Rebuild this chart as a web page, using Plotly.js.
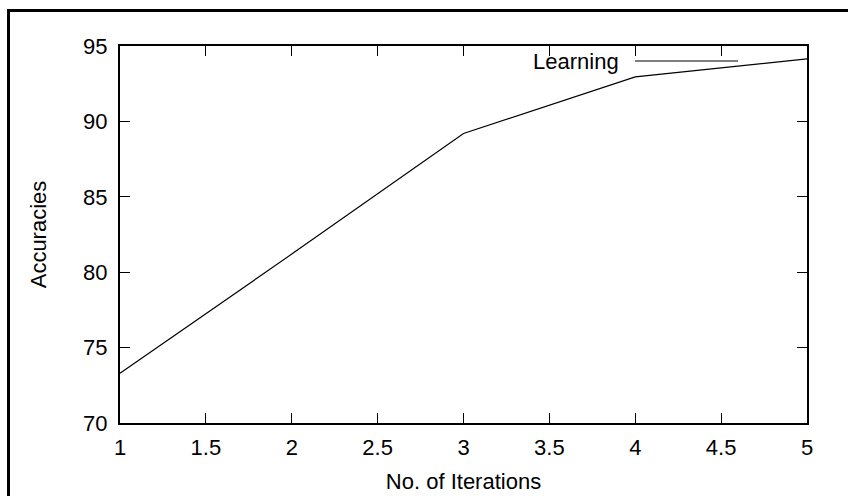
<!DOCTYPE html>
<html>
<head>
<meta charset="utf-8">
<script src="https://cdn.plot.ly/plotly-3.0.1.min.js"></script>
<style>
html,body{margin:0;padding:0;background:#fff;overflow:hidden;}
#chart{width:848px;height:496px;}
</style>
</head>
<body>
<div id="chart"></div>
<script>
const iterations = [1, 2, 3, 4, 5];
const accuracies = [73.3, 81.2, 89.2, 92.95, 94.15];
const seriesName = "Learning";
const xTitle = "No. of Iterations";
const yTitle = "Accuracies";

const font = {family: "Liberation Sans, Arial, sans-serif", size: 22, color: "#000"};

const trace = {
  x: iterations, y: accuracies, type: "scatter", mode: "lines",
  name: seriesName, line: {color: "#000", width: 1.2}, showlegend: false
};

const axisCommon = {
  showgrid: false, zeroline: false, showline: true, linecolor: "#000", linewidth: 2,
  ticks: "inside", ticklen: 10, tickwidth: 1, tickcolor: "#000", mirror: "ticks",
  tickfont: font
};

const pw = 687, ph = 377, L = 120, B = 423;
const px = v => (v - L) / pw;
const py = v => (B - v) / ph;

const layout = {
  width: 848, height: 496,
  margin: {l: 120, r: 41, t: 46, b: 73},
  paper_bgcolor: "#fff", plot_bgcolor: "#fff",
  font: font,
  xaxis: Object.assign({}, axisCommon, {
    range: [1, 5], dtick: 0.5, tick0: 1, ticklabelstandoff: 4,
    title: {text: xTitle, font: font, standoff: 14}
  }),
  yaxis: Object.assign({}, axisCommon, {
    range: [70, 95], dtick: 5, tick0: 70, ticklabelstandoff: 6,
    title: {text: yTitle, font: font, standoff: 30}
  }),
  shapes: [
    {type: "line", xref: "paper", yref: "paper", x0: px(635), x1: px(738), y0: py(61), y1: py(61),
     line: {color: "#000", width: 1.2}},
    {type: "line", xref: "paper", yref: "paper", x0: px(8.5), x1: px(8.5), y0: py(9), y1: py(500),
     line: {color: "#000", width: 3}},
    {type: "line", xref: "paper", yref: "paper", x0: px(7), x1: px(852), y0: py(10.5), y1: py(10.5),
     line: {color: "#000", width: 3}}
  ],
  annotations: [{
    xref: "paper", yref: "paper", x: px(621), y: py(61),
    xanchor: "right", yanchor: "middle", text: seriesName, showarrow: false, font: font
  }]
};

Plotly.newPlot("chart", [trace], layout, {displayModeBar: false, staticPlot: true});
</script>
</body>
</html>
